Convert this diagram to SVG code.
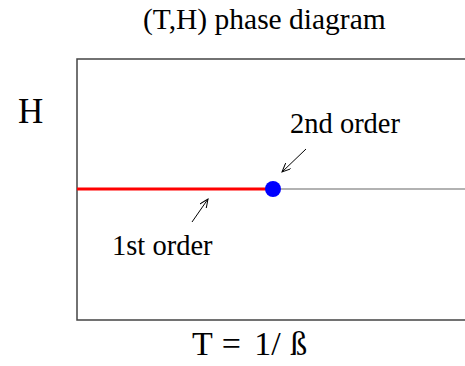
<svg xmlns="http://www.w3.org/2000/svg" width="465" height="366" viewBox="0 0 465 366">
<style>
text{font-family:"Liberation Serif","Times New Roman",serif;fill:#000}
.lbl{font-size:28.5px}
.frame{fill:none;stroke:#444;stroke-width:1.5}
.arr{stroke:#000;stroke-width:1;fill:none}
</style>
<defs>
<marker id="ah" markerWidth="10" markerHeight="8" refX="9" refY="4" orient="auto" markerUnits="userSpaceOnUse">
<path d="M0,0 L9,4 L0,8" fill="none" stroke="#000" stroke-width="1"/>
</marker>
</defs>
<rect width="465" height="366" fill="#fff"/>
<text x="143" y="29" font-size="29.5">(T,H) phase diagram</text>
<g id="axes">
<path class="frame" d="M466,59 H77 V320 H466"/>
<line x1="77" y1="189" x2="466" y2="189" stroke="#666" stroke-width="1.2"/>
<text x="18" y="123" font-size="35">H</text>
<text x="192" y="355" font-size="34" dx="0 0 1 0 5 0 0 1">T = 1/ ß</text>
</g>
<g id="first-order">
<line x1="77" y1="189" x2="268" y2="189" stroke="#ff0000" stroke-width="3"/>
<text class="lbl" x="112" y="255">1st order</text>
</g>
<g id="second-order">
<circle cx="273" cy="189" r="8" fill="#0000ff"/>
<text class="lbl" x="290" y="133">2nd order</text>
</g>
<g id="connectors">
<line class="arr" x1="306" y1="149" x2="282" y2="172" marker-end="url(#ah)"/>
<line class="arr" x1="192" y1="222" x2="208" y2="199" marker-end="url(#ah)"/>
</g>
</svg>
